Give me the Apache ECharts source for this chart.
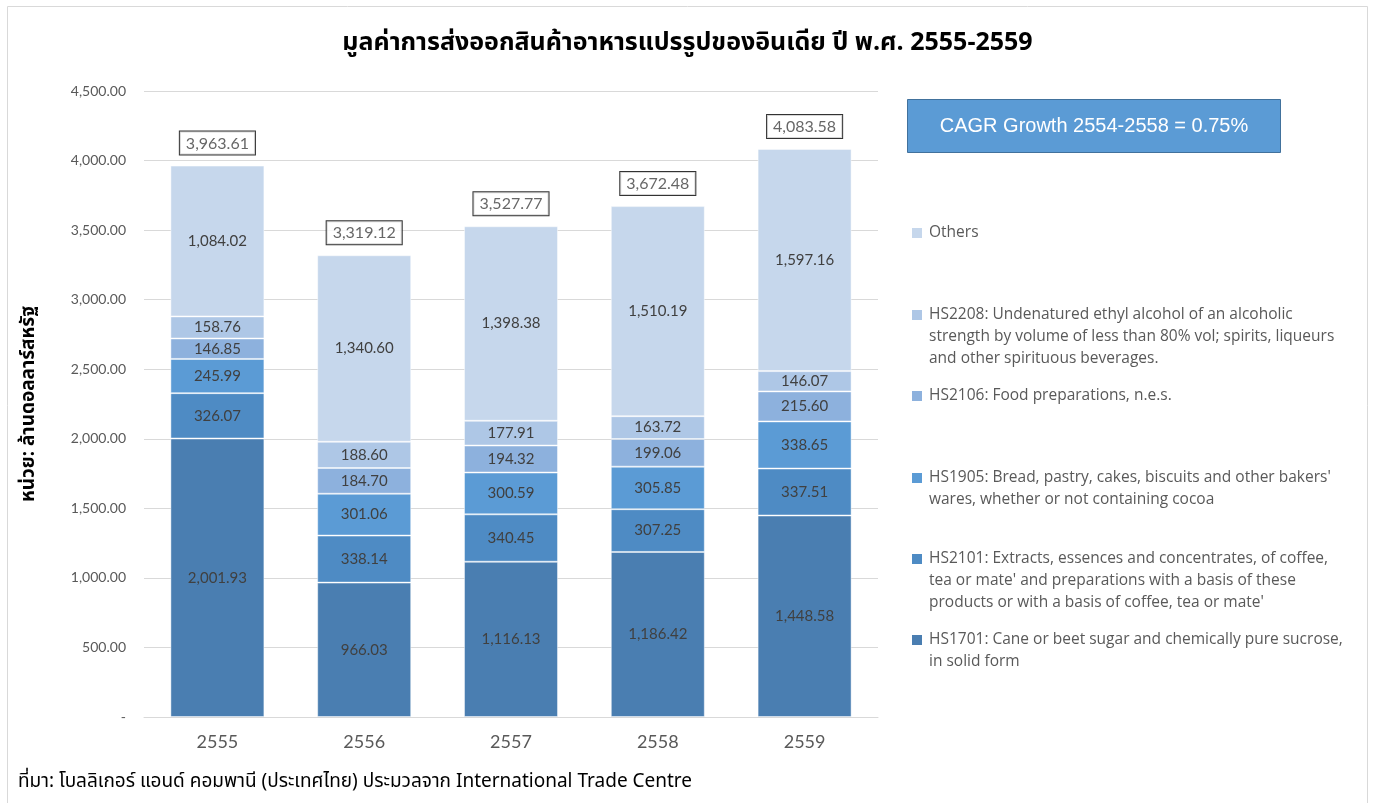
<!DOCTYPE html>
<html>
<head>
<meta charset="utf-8">
<script src="https://cdn.jsdelivr.net/npm/echarts@6/dist/echarts.min.js"></script>
<style>
  html, body { margin: 0; padding: 0; background: #fff; }
  #chart { width: 1375px; height: 803px; }
</style>
</head>
<body>
<div id="chart"></div>
<script>
// Export value of India's processed food, million USD, by HS code
const years = ['2555', '2556', '2557', '2558', '2559'];
const hs1701 = [2001.93, 966.03, 1116.13, 1186.42, 1448.58];
const hs2101 = [326.07, 338.14, 340.45, 307.25, 337.51];
const hs1905 = [245.99, 301.06, 300.59, 305.85, 338.65];
const hs2106 = [146.85, 184.70, 194.32, 199.06, 215.60];
const hs2208 = [158.76, 188.60, 177.91, 163.72, 146.07];
const others = [1084.02, 1340.60, 1398.38, 1510.19, 1597.16];
const totals = [3963.61, 3319.12, 3527.77, 3672.48, 4083.58];
const yTicks = { min: 0, max: 4500, interval: 500 };

const seriesNames = [
  'HS1701: Cane or beet sugar and chemically pure sucrose,\nin solid form',
  "HS2101: Extracts, essences and concentrates, of coffee,\ntea or mate' and preparations with a basis of these\nproducts or with a basis of coffee, tea or mate'",
  "HS1905: Bread, pastry, cakes, biscuits and other bakers'\nwares, whether or not containing cocoa",
  'HS2106: Food preparations, n.e.s.',
  'HS2208: Undenatured ethyl alcohol of an alcoholic\nstrength by volume of less than 80% vol; spirits, liqueurs\nand other spirituous beverages.',
  'Others'
];
const seriesData = [hs1701, hs2101, hs1905, hs2106, hs2208, others];
const colors = ['#4a7eb1', '#4e8bc4', '#5b9bd5', '#8db1dd', '#aec7e6', '#c6d7ec'];

const numFont = "Lato, 'Noto Sans', sans-serif";
const legendFont = "'Open Sans', 'Noto Sans', sans-serif";
const thaiFont = "'Noto Sans Thai', 'Noto Sans', sans-serif";
const fmt = v => Number(v).toLocaleString('en-US', { minimumFractionDigits: 2, maximumFractionDigits: 2 });

const chart = echarts.init(document.getElementById('chart'));

const barSeries = seriesNames.map((name, i) => ({
  name: name,
  type: 'bar',
  stack: 'total',
  barWidth: 94,
  data: seriesData[i],
  itemStyle: { color: colors[i], borderColor: 'rgba(255,255,255,0.45)', borderWidth: 1 },
  label: {
    show: true,
    position: 'inside',
    formatter: p => fmt(p.value),
    color: '#404040',
    fontFamily: numFont,
    fontSize: 15
  },
  emphasis: { disabled: true }
}));

// Boxed totals above each stack
barSeries.push({
  name: 'total',
  type: 'scatter',
  data: totals,
  symbolSize: 0,
  silent: true,
  z: 5,
  label: {
    show: true,
    position: 'top',
    distance: 11,
    formatter: p => fmt(p.value),
    color: '#404040',
    fontFamily: numFont,
    fontSize: 16,
    borderColor: '#000',
    borderWidth: 1,
    padding: [4, 6, 3, 6],
    backgroundColor: '#fff'
  }
});

// Legend drawn as markers plus wrapped text, top to bottom
const legendRows = [
  { idx: 5, y: 233 },
  { idx: 4, y: 315 },
  { idx: 3, y: 396 },
  { idx: 2, y: 478 },
  { idx: 1, y: 559 },
  { idx: 0, y: 640 }
];
const legendGraphics = [];
legendRows.forEach(r => {
  legendGraphics.push({
    type: 'rect',
    shape: { x: 912, y: r.y - 5, width: 10, height: 10 },
    style: { fill: colors[r.idx] }
  });
  legendGraphics.push({
    type: 'text',
    x: 929,
    y: r.y - 11,
    style: {
      text: seriesNames[r.idx],
      fill: '#595959',
      font: '15.5px ' + legendFont,
      lineHeight: 22,
      verticalAlign: 'top'
    }
  });
});

chart.setOption({
  animation: false,
  title: {
    text: 'มูลค่าการส่งออกสินค้าอาหารแปรรูปของอินเดีย ปี พ.ศ. 2555-2559',
    left: 'center',
    top: 27,
    textStyle: { fontFamily: thaiFont, fontWeight: 'bold', fontSize: 25, color: '#000' }
  },
  grid: { left: 144, right: 497, top: 91, bottom: 86 },
  xAxis: {
    type: 'category',
    data: years,
    axisLine: { lineStyle: { color: '#d9d9d9' } },
    axisTick: { show: false },
    axisLabel: { color: '#595959', fontSize: 18, fontFamily: numFont, margin: 16 }
  },
  yAxis: {
    type: 'value',
    min: yTicks.min,
    max: yTicks.max,
    interval: yTicks.interval,
    name: 'หน่วย: ล้านดอลลาร์สหรัฐ',
    nameLocation: 'middle',
    nameRotate: 90,
    nameGap: 104,
    nameTextStyle: { fontFamily: thaiFont, fontWeight: 'bold', fontSize: 19, color: '#000' },
    axisLine: { show: false },
    axisTick: { show: false },
    splitLine: { lineStyle: { color: '#d9d9d9' } },
    axisLabel: {
      color: '#595959',
      fontSize: 14,
      fontFamily: numFont,
      margin: 18,
      formatter: v => v === 0 ? '-' : fmt(v)
    }
  },
  series: barSeries,
  graphic: [
    {
      type: 'rect',
      shape: { x: 7.5, y: 6.5, width: 1360, height: 810 },
      style: { fill: 'none', stroke: '#d9d9d9', lineWidth: 1 },
      silent: true
    },
    {
      type: 'rect',
      shape: { x: 907.5, y: 99.5, width: 373, height: 53 },
      style: { fill: '#5b9bd5', stroke: '#41719c', lineWidth: 1 }
    },
    {
      type: 'text',
      x: 1094, y: 126,
      style: {
        text: 'CAGR Growth 2554-2558 = 0.75%',
        fill: '#fff',
        font: "20px 'Liberation Sans', Arial, sans-serif",
        align: 'center',
        verticalAlign: 'middle'
      }
    },
    {
      type: 'text',
      x: 18, y: 783,
      style: {
        text: 'ที่มา: โบลลิเกอร์ แอนด์ คอมพานี (ประเทศไทย) ประมวลจาก International Trade Centre',
        fill: '#000',
        font: "19px 'Noto Sans Thai', 'Liberation Sans', sans-serif",
        verticalAlign: 'middle'
      }
    }
  ].concat(legendGraphics)
});
</script>
</body>
</html>
